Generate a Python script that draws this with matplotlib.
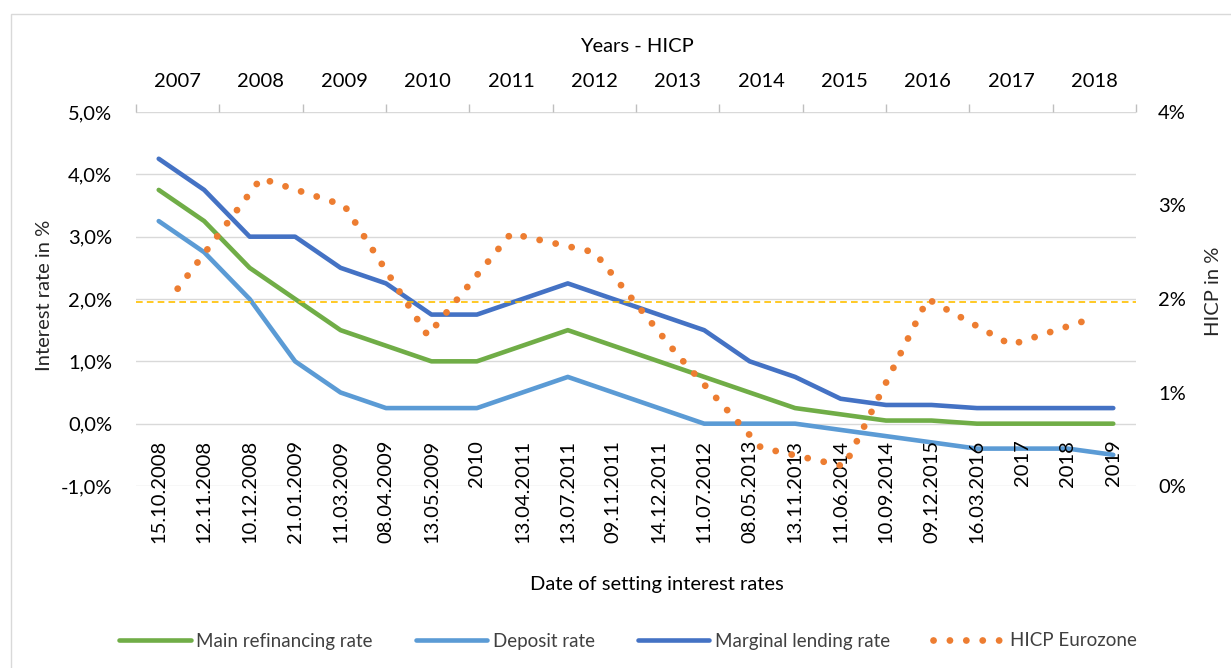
import numpy as np
import matplotlib.pyplot as plt
from matplotlib.patches import Rectangle

plt.rcParams['font.family'] = ['Lato', 'DejaVu Sans']

# ECB rate decisions (primary x axis)
dates = ['15.10.2008', '12.11.2008', '10.12.2008', '21.01.2009', '11.03.2009',
         '08.04.2009', '13.05.2009', '2010', '13.04.2011', '13.07.2011',
         '09.11.2011', '14.12.2011', '11.07.2012', '08.05.2013', '13.11.2013',
         '11.06.2014', '10.09.2014', '09.12.2015', '16.03.2016', '2017', '2018', '2019']
main_rate = [3.75, 3.25, 2.5, 2.0, 1.5, 1.25, 1.0, 1.0, 1.25, 1.5, 1.25,
             1.0, 0.75, 0.5, 0.25, 0.15, 0.05, 0.05, 0.0, 0.0, 0.0, 0.0]
deposit_rate = [3.25, 2.75, 2.0, 1.0, 0.5, 0.25, 0.25, 0.25, 0.5, 0.75, 0.5,
                0.25, 0.0, 0.0, 0.0, -0.1, -0.2, -0.3, -0.4, -0.4, -0.4, -0.5]
marginal_rate = [4.25, 3.75, 3.0, 3.0, 2.5, 2.25, 1.75, 1.75, 2.0, 2.25, 2.0,
                 1.75, 1.5, 1.0, 0.75, 0.4, 0.3, 0.3, 0.25, 0.25, 0.25, 0.25]

# HICP (secondary axes, yearly)
years = ['2007', '2008', '2009', '2010', '2011', '2012', '2013', '2014',
         '2015', '2016', '2017', '2018']
hicp = [2.11, 3.29, 3.0, 1.61, 2.70, 2.50, 1.40, 0.41, 0.21, 2.0, 1.51, 1.80]
target = 1.95

fs = 14.5
W, H = 1231, 668
rect = [136 / W, 1 - 486 / H, 1000 / W, 374 / H]

fig = plt.figure(figsize=(W / 100, H / 100), dpi=100)
ax = fig.add_axes(rect)
axh = fig.add_axes(rect, frameon=False)

x = np.arange(len(dates))
lw = 3.3
ax.plot(x, main_rate, color='#70AD47', lw=lw, solid_capstyle='round',
        solid_joinstyle='round', label='Main refinancing rate')
ax.plot(x, deposit_rate, color='#5B9BD5', lw=lw, solid_capstyle='round',
        solid_joinstyle='round', label='Deposit rate')
ax.plot(x, marginal_rate, color='#4472C4', lw=lw, solid_capstyle='round',
        solid_joinstyle='round', label='Marginal lending rate')
ax.axhline(target, color='#FFC000', lw=1.2, linestyle=(0, (4, 2.5)), zorder=3)

ax.set_xlim(-0.5, len(dates) - 0.5)
ax.set_ylim(-1, 5)
yt = np.arange(-1, 6)
ax.set_yticks(yt)
ax.set_yticklabels([f'{v:.1f}%'.replace('.', ',') for v in yt])
ax.yaxis.grid(True, color='#D9D9D9', lw=1)
ax.set_axisbelow(True)
for s in ax.spines.values():
    s.set_visible(False)
ax.set_xticks(x)
ax.set_xticklabels([])
ax.tick_params(axis='x', length=0)
ax.tick_params(axis='y', length=0, pad=17, labelsize=fs)

# category labels hang from the 0 % line
for i, d in enumerate(dates):
    ax.annotate(d, xy=(i, 0), xytext=(0, -16), textcoords='offset pixels',
                rotation=90, ha='center', va='top', fontsize=fs)

ax.set_xlabel('Date of setting interest rates', fontsize=fs)
ax.xaxis.set_label_coords(0.521, -0.24)
ax.set_ylabel('Interest rate in %', fontsize=fs, color='#262626')
ax.yaxis.set_label_coords(-0.083, 0.51)

# secondary axes: years on top, HICP on the right
axh.plot(np.arange(len(years)), hicp, color='#ED7D31', lw=4.9,
         linestyle=(0, (0.01, 2.4)), dash_capstyle='round', label='HICP Eurozone')
axh.set_xlim(-0.5, len(years) - 0.5)
axh.set_ylim(0, 4)
axh.xaxis.tick_top()
axh.xaxis.set_label_position('top')
axh.yaxis.tick_right()
axh.yaxis.set_label_position('right')
axh.set_xticks(np.arange(len(years)))
axh.set_xticklabels(years)
axh.set_xticks(np.arange(-0.5, len(years), 1), minor=True)
axh.tick_params(axis='x', which='major', length=0, pad=16, labelsize=fs)
axh.tick_params(axis='x', which='minor', length=6, color='#BFBFBF', width=1)
axh.set_yticks(np.arange(0, 5))
axh.set_yticklabels([f'{v}%' for v in range(0, 5)])
axh.tick_params(axis='y', length=0, pad=16, labelsize=fs)
axh.set_xlabel('Years - HICP', fontsize=fs)
axh.xaxis.set_label_coords(0.501, 1.16)
axh.set_ylabel('HICP in %', fontsize=fs, color='#262626')
axh.yaxis.set_label_coords(1.069, 0.52)

h1, l1 = ax.get_legend_handles_labels()
h2, l2 = axh.get_legend_handles_labels()
fig.legend(h1 + h2, l1 + l2, loc='center', bbox_to_anchor=(628 / W, 1 - 641 / H),
           ncol=4, frameon=False, handlelength=3.8, handletextpad=0.3,
           columnspacing=2.3, fontsize=13.5, labelcolor='#404040')

fig.add_artist(Rectangle((11 / W, -0.01), 1.0, 1 - 14 / H + 0.01,
                         transform=fig.transFigure, fill=False,
                         ec='#D9D9D9', lw=1))

fig.savefig('out.png', dpi=100)
